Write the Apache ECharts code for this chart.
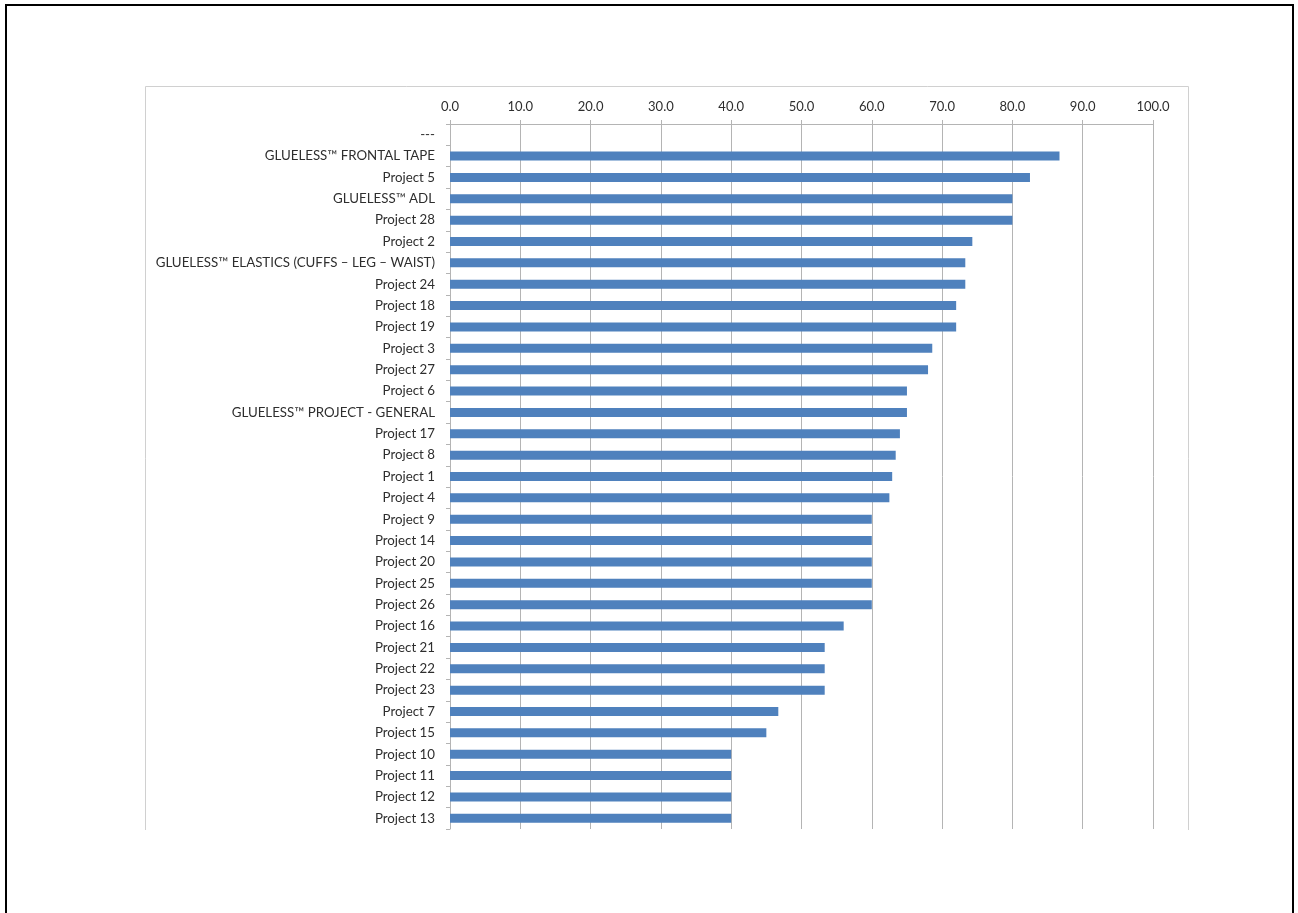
<!DOCTYPE html>
<html>
<head>
<meta charset="utf-8">
<script src="https://cdn.jsdelivr.net/npm/echarts@6/dist/echarts.min.js"></script>
<style>
html,body{margin:0;padding:0;background:#fff;}
#chart{width:1298px;height:913px;}
</style>
</head>
<body>
<div id="chart"></div>
<script>
const categories = [
  '---',
  'GLUELESS\u2122 FRONTAL TAPE',
  'Project 5',
  'GLUELESS\u2122 ADL',
  'Project 28',
  'Project 2',
  'GLUELESS\u2122 ELASTICS (CUFFS \u2013 LEG \u2013 WAIST)',
  'Project 24',
  'Project 18',
  'Project 19',
  'Project 3',
  'Project 27',
  'Project 6',
  'GLUELESS\u2122 PROJECT - GENERAL',
  'Project 17',
  'Project 8',
  'Project 1',
  'Project 4',
  'Project 9',
  'Project 14',
  'Project 20',
  'Project 25',
  'Project 26',
  'Project 16',
  'Project 21',
  'Project 22',
  'Project 23',
  'Project 7',
  'Project 15',
  'Project 10',
  'Project 11',
  'Project 12',
  'Project 13'
];
const values = [
  null, 86.7, 82.5, 80.0, 80.0, 74.3, 73.3, 73.3, 72.0, 72.0, 68.6, 68.0,
  65.0, 65.0, 64.0, 63.4, 62.9, 62.5, 60.0, 60.0, 60.0, 60.0, 60.0, 56.0,
  53.3, 53.3, 53.3, 46.7, 45.0, 40.0, 40.0, 40.0, 40.0
];
const xTicks = { min: 0, max: 100, interval: 10 };

const chart = echarts.init(document.getElementById('chart'), null, { renderer: 'canvas' });
const gridColor = '#b4b4b4';
const textColor = '#2e2e2e';
const font = 'Lato, "Open Sans", sans-serif';

chart.setOption({
  animation: false,
  backgroundColor: '#ffffff',
  graphic: [
    { type: 'polyline', silent: true, shape: { points: [[145.5, 830], [145.5, 86.5], [1188.5, 86.5], [1188.5, 830]] },
      style: { stroke: '#d0d0d0', lineWidth: 1, fill: null } },
    { type: 'polyline', silent: true, shape: { points: [[6, 913], [6, 5], [1293, 5], [1293, 913]] },
      style: { stroke: '#000000', lineWidth: 2, fill: null } }
  ],
  grid: { left: 450, right: 145, top: 124, bottom: 84, containLabel: false },
  xAxis: {
    type: 'value',
    position: 'top',
    min: xTicks.min, max: xTicks.max, interval: xTicks.interval,
    axisLine: { show: true, lineStyle: { color: gridColor, width: 1 } },
    axisTick: { show: true, length: 4, lineStyle: { color: gridColor } },
    axisLabel: { margin: 11, color: textColor, fontSize: 13, fontFamily: font,
      formatter: v => v.toFixed(1) },
    splitLine: { show: true, lineStyle: { color: gridColor, width: 1 } }
  },
  yAxis: {
    type: 'category',
    inverse: true,
    data: categories,
    axisLine: { show: true, lineStyle: { color: gridColor, width: 1 } },
    axisTick: { show: true, length: 4, lineStyle: { color: gridColor } },
    axisLabel: { margin: 15, color: textColor, fontSize: 13.3, fontFamily: font, interval: 0 },
    splitLine: { show: false }
  },
  series: [{
    type: 'bar',
    data: values,
    barWidth: 9,
    itemStyle: { color: '#4f81bd' },
    silent: true
  }]
});
</script>
</body>
</html>
